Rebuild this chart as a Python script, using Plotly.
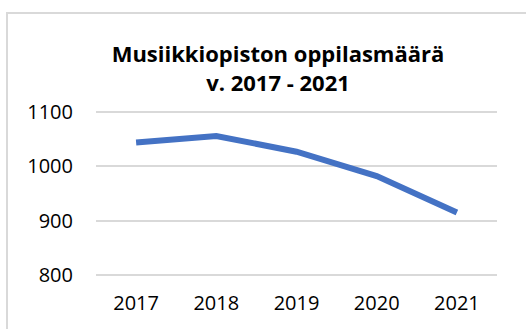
import plotly.graph_objects as go

# Student counts of the music institute by year
years = ["2017", "2018", "2019", "2020", "2021"]
students = [1044, 1056, 1027, 982, 915]
y_ticks = [800, 900, 1000, 1100]

title_text = "<b>Musiikkiopiston oppilasmäärä<br>v. 2017 - 2021</b>"

W, H = 526, 329
ml, mr, mt, mb = 96, 29, 111, 53
pw, ph = W - ml - mr, H - mt - mb

fig = go.Figure(
    go.Scatter(
        x=years,
        y=students,
        mode="lines",
        line=dict(color="#4472C4", width=6, shape="linear"),
        hoverinfo="x+y",
    )
)

# Chart-area frame (light grey border running off the right and bottom edges)
fx0 = (7 - ml) / pw
fy1 = (H - mb - 13) / ph
fig.add_shape(
    type="rect", xref="paper", yref="paper",
    x0=fx0, y0=-1.0, x1=2.0, y1=fy1,
    line=dict(color="#D9D9D9", width=2), fillcolor="rgba(0,0,0,0)", layer="below",
)

fig.update_layout(
    width=W, height=H,
    margin=dict(l=ml, r=mr, t=mt, b=mb),
    paper_bgcolor="white", plot_bgcolor="white",
    showlegend=False,
    font=dict(family="Open Sans", color="#000000", size=20),
    title=dict(
        text=title_text,
        x=278 / W, xanchor="center",
        y=1 - 62 / H, yanchor="middle",
        font=dict(family="Open Sans", size=22, color="#000000"),
    ),
)

fig.update_xaxes(
    type="category",
    range=[-0.5, len(years) - 0.5],
    showgrid=False, zeroline=False, showline=False,
    ticks="", ticklabelstandoff=13,
    tickfont=dict(size=20, color="#000000"),
)
fig.update_yaxes(
    range=[798, 1102],
    tickvals=y_ticks,
    showgrid=True, gridcolor="#D9D9D9", gridwidth=1.5,
    zeroline=False, showline=False,
    ticks="", ticklabelstandoff=22,
    tickfont=dict(size=20, color="#000000"),
)

fig.write_html("out.html")
